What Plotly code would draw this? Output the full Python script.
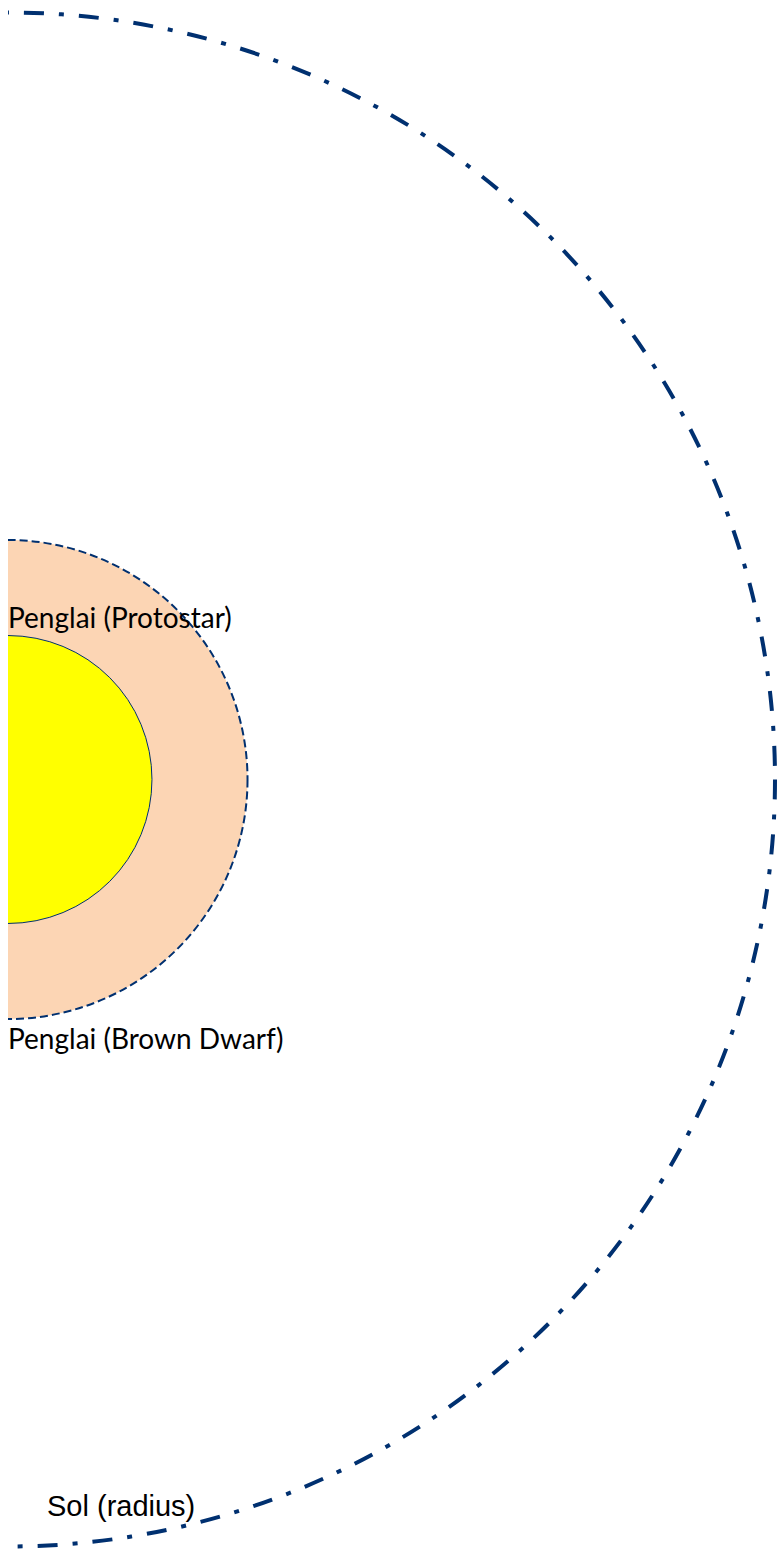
import plotly.graph_objects as go

# radii in solar radii
bodies = ["Sol (radius)", "Penglai (Protostar)", "Penglai (Brown Dwarf)"]
radii = [1.0, 0.3123, 0.1877]

navy = "#003070"
peach = "#FCD5B4"
yellow = "#FFFF00"

fig = go.Figure()

# invisible trace so the axes exist
fig.add_trace(go.Scatter(x=[0], y=[0], mode="markers", marker=dict(opacity=0),
                         hoverinfo="skip", showlegend=False))

r_sol, r_proto, r_bd = radii

# Sol
fig.add_shape(type="circle", xref="x", yref="y",
              x0=-r_sol, x1=r_sol, y0=-r_sol, y1=r_sol,
              line=dict(color=navy, width=4, dash="20px,15px,5px,15px"))
# protostar
fig.add_shape(type="circle", xref="x", yref="y",
              x0=-r_proto, x1=r_proto, y0=-r_proto, y1=r_proto,
              fillcolor=peach,
              line=dict(color=navy, width=2, dash="8px,4px"))
# brown dwarf
fig.add_shape(type="circle", xref="x", yref="y",
              x0=-r_bd, x1=r_bd, y0=-r_bd, y1=r_bd,
              fillcolor=yellow,
              line=dict(color=navy, width=1))

candara = "Lato, Open Sans, sans-serif"
fig.add_annotation(x=0, y=0.2119, xref="x", yref="y", text=bodies[1],
                   showarrow=False, xanchor="left", yanchor="middle", xshift=-2,
                   font=dict(family=candara, size=28, color="black"))
fig.add_annotation(x=0, y=-0.337, xref="x", yref="y", text=bodies[2],
                   showarrow=False, xanchor="left", yanchor="middle", xshift=-2,
                   font=dict(family=candara, size=28, color="black"))
fig.add_annotation(x=0.048, y=-0.947, xref="x", yref="y", text=bodies[0],
                   showarrow=False, xanchor="left", yanchor="middle",
                   font=dict(family="Liberation Sans, Arial, sans-serif", size=29,
                             color="black"))

fig.update_xaxes(range=[0, 770 / 767], visible=False, showgrid=False, zeroline=False)
fig.update_yaxes(range=[-(1549 - 779.5) / 767, 779.5 / 767], visible=False,
                 showgrid=False, zeroline=False)
fig.update_layout(width=778, height=1549, margin=dict(l=8, r=0, t=0, b=0),
                  plot_bgcolor="white", paper_bgcolor="white", showlegend=False)

fig.write_html("out.html", config={"displayModeBar": False},
               post_script="document.body.style.margin='0';")
